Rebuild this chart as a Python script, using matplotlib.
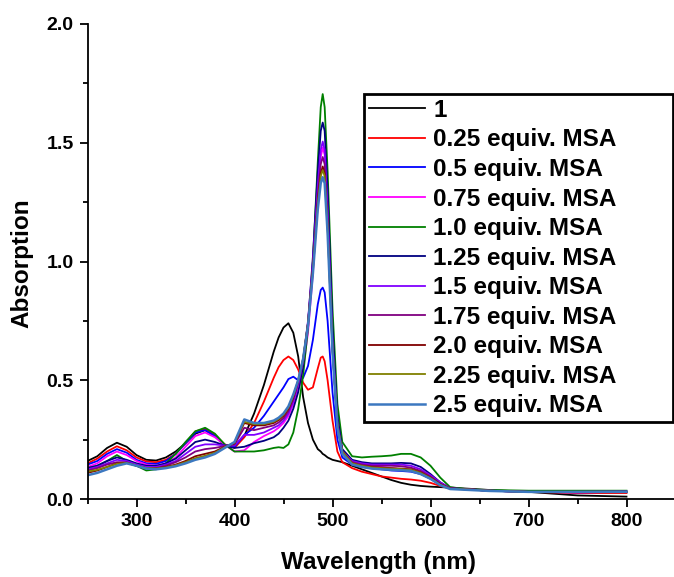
import matplotlib
matplotlib.use("Agg")
import matplotlib.pyplot as plt
from matplotlib.ticker import MultipleLocator, FormatStrFormatter

plt.rcParams['font.family'] = ['Liberation Sans', 'DejaVu Sans']
plt.rcParams['font.weight'] = 'bold'

wavelength = [250, 260, 270, 280, 290, 300, 310, 320, 330, 340, 350, 360, 370, 380, 390,
              400, 410, 420, 430, 440, 445, 450, 455, 460, 465, 470, 475, 480, 485, 488, 490,
              492, 495, 500, 505, 510, 520, 530, 540, 550, 560, 570, 580, 590, 600, 610,
              620, 640, 660, 700, 750, 800]

abs_1 = [0.16, 0.18, 0.215, 0.237, 0.22, 0.185, 0.165, 0.162, 0.175, 0.2, 0.235, 0.275, 0.29, 0.265, 0.225,
         0.22, 0.265, 0.36, 0.48, 0.62, 0.68, 0.722, 0.74, 0.70, 0.60, 0.43, 0.32, 0.25, 0.21, 0.2, 0.19,
         0.185, 0.175, 0.165, 0.16, 0.155, 0.14, 0.125, 0.11, 0.095, 0.08, 0.068, 0.06, 0.055, 0.052, 0.05,
         0.048, 0.043, 0.038, 0.03, 0.015, 0.01]
abs_025 = [0.15, 0.17, 0.2, 0.222, 0.205, 0.175, 0.158, 0.155, 0.165, 0.19, 0.235, 0.285, 0.295, 0.27, 0.23,
           0.215, 0.26, 0.32, 0.41, 0.51, 0.555, 0.585, 0.60, 0.585, 0.545, 0.49, 0.46, 0.47, 0.55, 0.595, 0.60,
           0.58, 0.5, 0.33, 0.2, 0.155, 0.13, 0.115, 0.105, 0.095, 0.09, 0.085, 0.082, 0.077, 0.068, 0.055,
           0.045, 0.04, 0.035, 0.03, 0.025, 0.025]
abs_05 = [0.145, 0.16, 0.19, 0.21, 0.195, 0.165, 0.15, 0.148, 0.16, 0.19, 0.235, 0.28, 0.29, 0.265, 0.228,
          0.22, 0.27, 0.3, 0.35, 0.41, 0.44, 0.47, 0.505, 0.515, 0.5, 0.51, 0.56, 0.67, 0.82, 0.88, 0.89,
          0.87, 0.75, 0.45, 0.25, 0.175, 0.145, 0.135, 0.13, 0.125, 0.12, 0.118, 0.115, 0.105, 0.085, 0.06,
          0.045, 0.04, 0.035, 0.03, 0.028, 0.03]
abs_075 = [0.135, 0.15, 0.18, 0.2, 0.185, 0.16, 0.145, 0.14, 0.15, 0.175, 0.22, 0.265, 0.28, 0.26, 0.228,
           0.2, 0.205, 0.24, 0.265, 0.285, 0.3, 0.32, 0.35, 0.4, 0.46, 0.55, 0.7, 0.95, 1.28, 1.44, 1.48,
           1.45, 1.2, 0.65, 0.32, 0.2, 0.155, 0.145, 0.14, 0.135, 0.13, 0.125, 0.12, 0.11, 0.09, 0.065,
           0.045, 0.04, 0.035, 0.03, 0.028, 0.03]
abs_10 = [0.13, 0.14, 0.16, 0.185, 0.16, 0.14, 0.12, 0.125, 0.15, 0.19, 0.24, 0.285, 0.3, 0.275, 0.23,
          0.2, 0.2, 0.2, 0.205, 0.215, 0.218, 0.215, 0.23, 0.28, 0.38, 0.52, 0.72, 1.0, 1.42, 1.65, 1.705,
          1.65, 1.38, 0.8, 0.4, 0.24, 0.18, 0.175, 0.178, 0.18, 0.183, 0.19, 0.19, 0.175, 0.14, 0.09,
          0.05, 0.04, 0.038, 0.035, 0.035, 0.035]
abs_125 = [0.13, 0.14, 0.16, 0.175, 0.165, 0.15, 0.14, 0.14, 0.15, 0.17, 0.205, 0.24, 0.25, 0.24, 0.225,
           0.215, 0.22, 0.235, 0.245, 0.26, 0.275, 0.3, 0.33, 0.38, 0.45, 0.56, 0.74, 1.02, 1.38, 1.55, 1.585,
           1.55, 1.3, 0.72, 0.35, 0.21, 0.165, 0.155, 0.15, 0.15, 0.15, 0.152, 0.15, 0.135, 0.105, 0.07,
           0.045, 0.04, 0.035, 0.03, 0.03, 0.03]
abs_15 = [0.125, 0.135, 0.15, 0.165, 0.16, 0.145, 0.135, 0.135, 0.145, 0.16, 0.19, 0.22, 0.23, 0.23, 0.225,
          0.225, 0.27, 0.27, 0.28, 0.3, 0.31, 0.33, 0.36, 0.41, 0.48, 0.58, 0.75, 1.0, 1.32, 1.47, 1.505,
          1.47, 1.22, 0.66, 0.32, 0.2, 0.16, 0.15, 0.145, 0.145, 0.145, 0.145, 0.14, 0.125, 0.1, 0.07,
          0.045, 0.04, 0.035, 0.03, 0.03, 0.032]
abs_175 = [0.12, 0.13, 0.145, 0.155, 0.155, 0.14, 0.13, 0.13, 0.14, 0.155, 0.175, 0.2, 0.21, 0.215, 0.223,
           0.23, 0.3, 0.29, 0.3, 0.31, 0.322, 0.34, 0.37, 0.42, 0.49, 0.58, 0.74, 0.98, 1.28, 1.41, 1.44,
           1.41, 1.18, 0.64, 0.31, 0.2, 0.155, 0.145, 0.14, 0.14, 0.14, 0.138, 0.132, 0.118, 0.095, 0.065,
           0.045, 0.04, 0.035, 0.03, 0.03, 0.03]
abs_20 = [0.11, 0.12, 0.135, 0.15, 0.152, 0.14, 0.13, 0.128, 0.135, 0.145, 0.16, 0.18, 0.19, 0.2, 0.22,
          0.235, 0.32, 0.31, 0.31, 0.32, 0.332, 0.35, 0.38, 0.43, 0.5, 0.59, 0.74, 0.97, 1.25, 1.37, 1.40,
          1.37, 1.15, 0.63, 0.31, 0.2, 0.15, 0.14, 0.135, 0.132, 0.13, 0.128, 0.125, 0.112, 0.09, 0.062,
          0.044, 0.04, 0.035, 0.03, 0.03, 0.03]
abs_225 = [0.115, 0.123, 0.135, 0.148, 0.152, 0.14, 0.13, 0.128, 0.133, 0.142, 0.155, 0.172, 0.182, 0.195, 0.218,
           0.238, 0.325, 0.315, 0.315, 0.325, 0.337, 0.355, 0.385, 0.435, 0.5, 0.59, 0.74, 0.96, 1.24, 1.36, 1.385,
           1.36, 1.14, 0.63, 0.31, 0.2, 0.15, 0.14, 0.133, 0.13, 0.128, 0.126, 0.123, 0.11, 0.088, 0.06,
           0.043, 0.04, 0.035, 0.03, 0.03, 0.03]
abs_25 = [0.10, 0.11, 0.125, 0.14, 0.15, 0.14, 0.128, 0.125, 0.13, 0.138, 0.15, 0.165, 0.175, 0.19, 0.215,
          0.24, 0.335, 0.32, 0.32, 0.33, 0.342, 0.36, 0.39, 0.44, 0.5, 0.59, 0.73, 0.95, 1.22, 1.33, 1.355,
          1.33, 1.12, 0.62, 0.3, 0.19, 0.145, 0.135, 0.128, 0.125, 0.123, 0.121, 0.118, 0.105, 0.085, 0.058,
          0.042, 0.038, 0.034, 0.03, 0.03, 0.03]

series = [abs_1, abs_025, abs_05, abs_075, abs_10, abs_125, abs_15, abs_175, abs_20, abs_225, abs_25]
labels = ["1", "0.25 equiv. MSA", "0.5 equiv. MSA", "0.75 equiv. MSA", "1.0 equiv. MSA",
          "1.25 equiv. MSA", "1.5 equiv. MSA", "1.75 equiv. MSA", "2.0 equiv. MSA",
          "2.25 equiv. MSA", "2.5 equiv. MSA"]
colors = ["#000000", "#ff0000", "#0000ff", "#ff00ff", "#008000", "#000080",
          "#8000ff", "#800080", "#800000", "#808000", "#3c78c0"]
widths = [1.3] * 10 + [1.8]

W, H = 674, 577
fig = plt.figure(figsize=(W / 100, H / 100), dpi=100)
x0, x1, y0, y1 = 87.5, 675.5, 24, 499
ax = fig.add_axes([x0 / W, 1 - y1 / H, (x1 - x0) / W, (y1 - y0) / H])

for ys, lab, c, lw in zip(series, labels, colors, widths):
    ax.plot(wavelength, ys, color=c, lw=lw, label=lab)

ax.set_xlim(250, 850)
ax.set_ylim(0, 2.0)
ax.set_xticks([300, 400, 500, 600, 700, 800])
ax.xaxis.set_minor_locator(MultipleLocator(50))
ax.yaxis.set_major_locator(MultipleLocator(0.5))
ax.yaxis.set_minor_locator(MultipleLocator(0.25))
ax.yaxis.set_major_formatter(FormatStrFormatter('%.1f'))
for s in ['top', 'right']:
    ax.spines[s].set_visible(False)
for s in ['left', 'bottom']:
    ax.spines[s].set_linewidth(1.3)
ax.tick_params(which='major', direction='out', length=6, width=1.3, labelsize=14, pad=4)
ax.tick_params(which='minor', direction='out', length=3.5, width=1.3)
for t in ax.get_xticklabels() + ax.get_yticklabels():
    t.set_fontweight('bold')

ax.set_xlabel("Wavelength (nm)", fontsize=17.5, fontweight='bold')
ax.xaxis.set_label_coords(378 / W, 1 - 563 / H, transform=fig.transFigure)
ax.xaxis.label.set_va('center')
ax.set_ylabel("Absorption", fontsize=17.5, fontweight='bold')
ax.yaxis.set_label_coords(22 / W, 1 - 263 / H, transform=fig.transFigure)
ax.yaxis.label.set_va('center')

lx0, lx1, ly0, ly1 = 364, 673, 94, 418
leg = fig.legend(loc='upper left', bbox_to_anchor=(lx0 / W, 1 - ly1 / H, (lx1 - lx0) / W, (ly1 - ly0) / H),
                 mode='expand', prop={'weight': 'bold', 'size': 17.5}, frameon=True, fancybox=False,
                 handlelength=2.3, handletextpad=0.35, labelspacing=0.27, borderpad=0.2,
                 borderaxespad=0.0)
fr = leg.get_frame()
fr.set_edgecolor('black')
fr.set_linewidth(2.0)
fr.set_alpha(1)

fig.savefig("out.png", dpi=100)
